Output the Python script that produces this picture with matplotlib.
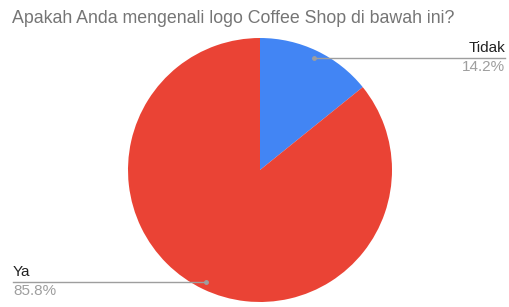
import numpy as np
import matplotlib
matplotlib.use('Agg')
import matplotlib.pyplot as plt

labels = ["Tidak", "Ya"]
values = [14.2, 85.8]
colors = ["#4285F4", "#EA4335"]

W, H = 509, 307
plt.rcParams['font.family'] = ['Liberation Sans', 'DejaVu Sans']
fig = plt.figure(figsize=(W / 100, H / 100), dpi=100)
ax = fig.add_axes([0, 0, 1, 1])

cx, cy, r = 260, H - 170, 132
wedges, _ = ax.pie(values, colors=colors, startangle=90, counterclock=False,
                   center=(cx, cy), radius=r, frame=True,
                   wedgeprops=dict(linewidth=0))
ax.set_xlim(0, W)
ax.set_ylim(0, H)
ax.set_aspect('auto')
ax.axis('off')

ax.text(12, H - 23, "Apakah Anda mengenali logo Coffee Shop di bawah ini?",
        fontsize=12.8, color="#757575", va='baseline', ha='left')

for w, lab, val in zip(wedges, labels, values):
    mid = np.deg2rad((w.theta1 + w.theta2) / 2)
    px = cx + 0.94 * r * np.cos(mid)
    py = cy + 0.94 * r * np.sin(mid)
    if np.cos(mid) >= 0:
        x0, x1, tx, ha = px, 505, 505, 'right'
    else:
        x0, x1, tx, ha = 13, px, 13, 'left'
    ax.plot([x0, x1], [py, py], color="#9e9e9e", lw=1)
    ax.plot([px], [py], 'o', color="#9e9e9e", ms=2.5)
    ax.text(tx, py + 3, lab, fontsize=11, color="#222222", ha=ha, va='bottom')
    ax.text(tx, py - 2, f"{val}%", fontsize=11, color="#9e9e9e", ha=ha, va='top')

fig.savefig("out.png", dpi=100, facecolor='white')
